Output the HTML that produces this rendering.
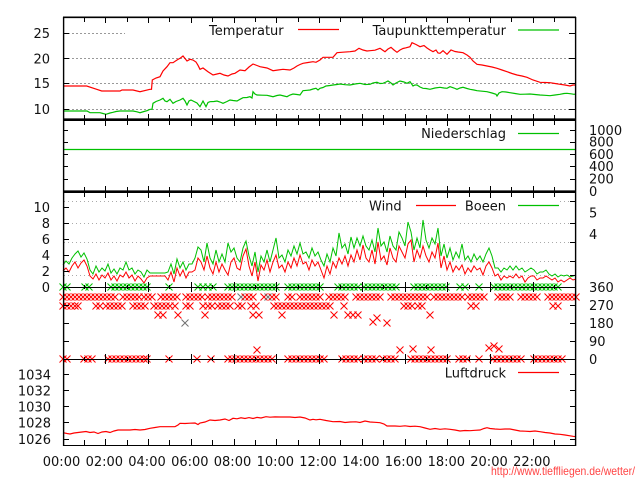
<!DOCTYPE html>
<html><head><meta charset="utf-8"><style>
html,body{margin:0;padding:0;background:#fff;}
svg{display:block;}
text{font-family:"DejaVu Sans","Liberation Sans",sans-serif;font-size:13px;fill:#111;}
</style></head><body>
<svg width="640" height="480" viewBox="0 0 640 480" xmlns="http://www.w3.org/2000/svg">
<defs>
<path id="r" d="M-3.5 -3.5l7 7m0 -7l-7 7" stroke="#f00" stroke-width="1" fill="none"/>
<path id="g" d="M-3.5 -3.5l7 7m0 -7l-7 7" stroke="#00c000" stroke-width="1" fill="none"/>
<path id="k" d="M-3.5 -3.5l7 7m0 -7l-7 7" stroke="#707070" stroke-width="1" fill="none"/>
</defs>
<rect width="640" height="480" fill="#fff"/>

<!-- grids -->
<g stroke="#999" stroke-width="1" stroke-dasharray="2,2" fill="none">
<path d="M64 33.5H125M64 58.5H570M64 83.5H570M64 109.5H570"/>
</g>
<g stroke="#aaa" stroke-width="1" stroke-dasharray="1,3" fill="none">
<path d="M64 201.5H363M560 201.5H570M64 223.5H570M64 242.5H570M64 261.5H570M64 275.5H570"/>
</g>

<!-- temperature -->
<polyline fill="none" stroke="#f00" stroke-width="1.2" points="63,86 86.7,86 96.7,89.3 101.7,91 120,91 122,90 133,90 140,91.7 150,89.3 151.5,89.3 152.3,80 156,78 160,76.7 163,71 167,66.7 170,62.7 173,62.7 177,60 180,58.3 183,56 187,61 190,59.3 193,60 196,62 198,65.3 200,69.3 203,68 208,71.7 213,75 217,74 220,73.3 224,75 228,76 232,74 235,73.3 240,70 245,70.7 249,67 253,64 257,65.5 260,66.7 267,68 273,70.7 278,70 283,69.3 290,70 294,68 297,66 300,64.5 303,63.3 308,62.5 313,61.7 316,62.3 320,60 323,57.3 333,57.3 337,52.7 343,52.2 350,51.7 355,51 359,48.3 363,50 367,51 370,50.7 375,50.2 380,48.3 385,51.7 388,49 391,47.3 394,50 397,52.3 400,50 403,48.5 406,47.8 410,46.7 412,42.7 416,44.5 420,46.7 424,45.5 427,48 430,50 433,51.7 436,50 438,53 440,53.3 443,50.7 447,54.3 451,50 455,51.5 458,52 463,52.7 467,55 470,57.3 473,61 477,64.3 482,65 487,66 492,67 497,68.3 502,70 507,71.7 512,73.5 517,75 522,76 527,77.3 533,80 540,82.3 545,82.5 550,82.7 555,83.5 560,84.3 565,85 570,86 573,85 576,85"/>
<!-- dew point -->
<polyline fill="none" stroke="#00c000" stroke-width="1.2" points="63,111 87,111 90,112.7 100,112.7 103,113.5 106,114.3 110,113 113,112.3 116,111.5 120,111 133,111 137,111.8 140,112.7 144,111.5 147,110.7 150,109.3 152,109.3 153,103.3 156,101.5 160,100 163,98.3 165,101 167,101.7 170,99.3 173,103.3 176,101.5 180,100 183,98.3 185,101 187,105 189,101 191,100 194,101.5 197,103 200,106.7 203,101 206,106.7 208,102.5 210,101.7 214,101.5 217,101 220,102 223,103.3 227,101.5 230,100 233,100.5 237,101 240,99.3 243,97.7 247,97.5 250,96.7 252,98 253,91.7 255,94 257,95 262,95.2 267,95.3 270,96 273,96.7 277,95.5 280,95 284,96 287,96.7 290,95 293,94 297,94.5 300,95 303,90.7 307,90.3 310,90 313,89 316,88.3 318,90 320,88.3 323,87.5 326,86 330,85.5 333,85 337,84.5 340,84 345,84.7 350,85 355,84 360,83.3 365,84.5 370,84.3 373,83 377,82.3 380,83.5 383,83.3 386,82 388,81 391,83 393,85 396,83 400,81 404,82 407,83.3 410,81.7 413,86 415,85 417,85 420,87 423,88.3 426,88.5 430,89.3 435,88 440,87.3 444,88 447,88.3 450,86.7 454,88 457,89.3 460,88 463,87.3 467,88.5 470,89.3 474,90 477,90.7 482,91.2 487,91.7 492,93 496,94.3 497,96 499,93 502,91.7 506,92 510,92.7 515,93.5 520,94.3 525,94.2 530,94 535,94.5 540,95 545,95.3 550,95.7 555,95 560,94.3 564,93.5 567,93.3 571,93.8 574,94.3 576,94"/>

<!-- precipitation -->
<path d="M63 149.5H576" stroke="#00c000" stroke-width="1.2"/>

<!-- wind gusts -->
<polyline fill="none" stroke="#00c000" stroke-width="1" points="63,265 66,261 69,264 72,258 75,254 78,251 81,257 84,253 87,259 90,270 93,274 96,266 99,272 102,268 105,271 108,264 111,273 114,269 117,274 120,268 123,270 126,262 129,270 132,268 135,274 138,270 141,272 144,277 147,270 150,273 153,273 156,273 159,273 162,273 165,273 168,272 171,264 174,274 177,259 180,268 183,262 186,270 189,264 192,264 195,258 198,247 201,250 204,262 207,243 210,258 213,264 216,250 219,262 222,254 225,262 228,243 231,252 234,248 237,258 240,262 243,248 246,241 249,256 252,266 255,252 258,272 261,256 264,262 267,250 270,262 273,250 276,238 279,258 282,255 285,262 288,250 291,256 294,246 297,254 300,243 303,254 306,252 309,258 312,248 315,256 318,252 321,260 324,266 327,254 330,262 333,248 336,256 339,233 342,248 345,244 348,254 351,237 354,248 357,238 360,246 363,236 366,246 369,250 372,240 375,252 378,228 381,246 384,242 387,252 390,236 393,246 396,250 399,232 402,238 405,246 408,222 411,232 414,250 417,238 420,248 423,220 426,240 429,248 432,238 435,244 438,228 441,256 444,244 447,258 450,248 453,260 456,252 459,258 462,244 465,260 468,256 471,262 474,254 477,260 480,256 483,262 486,254 489,248 492,256 495,268 498,268 501,272 504,268 507,270 510,266 513,270 516,266 519,270 522,268 525,272 528,270 531,268 534,270 537,274 540,272 543,272 546,270 549,274 552,276 555,274 558,277 561,275 564,276 567,275 570,277 573,276 576,275"/>
<!-- wind -->
<polyline fill="none" stroke="#f00" stroke-width="1" points="63,271 66,268 69,272 72,266 75,262 78,268 81,263 84,260 87,266 90,276 93,279 96,274 99,280 102,275 105,278 108,273 111,280 114,276 117,281 120,275 123,277 126,272 129,278 132,275 135,281 138,276 141,279 144,283 147,278 150,276 153,276 156,276 159,276 162,276 165,276 168,280 171,272 174,282 177,268 180,276 183,270 186,278 189,272 192,272 195,270 198,258 201,262 204,270 207,256 210,268 213,274 216,262 219,272 222,264 225,270 228,275 231,262 234,258 237,268 240,270 243,256 246,249 249,266 252,276 255,262 258,281 261,265 264,270 267,260 270,272 273,262 276,255 279,268 282,265 285,272 288,262 291,268 294,258 297,266 300,255 303,264 306,262 309,270 312,260 315,266 318,262 321,270 324,278 327,266 330,274 333,262 336,268 339,258 342,264 345,256 348,266 351,255 354,262 357,250 360,260 363,245 366,258 369,262 372,250 375,264 378,242 381,260 384,256 387,265 390,248 393,258 396,262 399,246 402,252 405,258 408,244 411,240 414,262 417,250 420,258 423,246 426,256 429,262 432,252 435,258 438,243 441,268 444,256 447,270 450,262 453,272 456,266 459,270 462,265 465,274 468,268 471,272 474,266 477,270 480,268 483,275 486,266 489,262 492,268 495,276 498,274 501,280 504,276 507,278 510,276 513,278 516,274 519,278 522,276 525,282 528,278 531,276 534,276 537,280 540,278 543,278 546,276 549,278 552,280 555,278 558,282 561,280 564,282 567,280 570,278 573,280 576,279"/>

<!-- pressure -->
<polyline fill="none" stroke="#f00" stroke-width="1.2" points="63,432.7 67,433.5 70,434 74,433 78,432.5 82,432 86,431.5 90,432.5 94,432 98,433.5 102,432 106,431.5 110,432.5 114,431 118,430 122,430 130,430 135,429.5 140,430 145,429.5 150,428.3 155,427.5 160,426.7 168,426.7 175,426.7 178,425 180,423.3 185,423.5 190,423.2 195,423 198,424.5 200,423 205,422 210,420 215,420.5 220,420 225,419 229,420.5 233,418.3 237,418.8 241,417.8 245,418.5 249,417.6 253,418.5 257,417.4 261,418 266,416.7 270,417.2 275,416.9 280,417 285,417 290,417 295,417.5 300,417 305,418 310,420 313,419.3 316,419.8 320,419.3 326,420.5 333,421.7 340,421.5 345,422.5 350,422 356,421.8 360,422.5 365,421 370,422 375,422.3 380,422.7 384,424 387,426 395,426 400,426.3 405,425.8 410,426.5 415,426.2 420,426.7 425,428 430,429.3 435,428.5 440,429.3 445,428.8 450,429.3 455,430 460,431 465,430.5 470,430.7 475,430.3 480,430 484,428.5 487,427.7 490,428.5 495,429 500,429.3 505,429 510,429 515,430 520,431 525,431.2 530,431.5 535,431 540,431.7 545,432.5 550,433 555,434 560,434.3 565,435 570,435.8 573,436.3 576,436.7"/>

<!-- wind direction crosses -->
<g>
<!-- row 315 -->
<use href="#r" x="63" y="297"/><use href="#r" x="67" y="297"/><use href="#r" x="71" y="297"/><use href="#r" x="75" y="297"/><use href="#r" x="79" y="297"/><use href="#r" x="83" y="297"/><use href="#r" x="87" y="297"/><use href="#r" x="91" y="297"/><use href="#r" x="95" y="297"/><use href="#r" x="99" y="297"/><use href="#r" x="103" y="297"/><use href="#r" x="107" y="297"/><use href="#r" x="111" y="297"/><use href="#r" x="115" y="297"/><use href="#r" x="123" y="297"/><use href="#r" x="127" y="297"/><use href="#r" x="131" y="297"/><use href="#r" x="135" y="297"/><use href="#r" x="139" y="297"/><use href="#r" x="144" y="297"/><use href="#r" x="148" y="297"/><use href="#r" x="152" y="297"/><use href="#r" x="161" y="297"/><use href="#r" x="165" y="297"/><use href="#r" x="169" y="297"/><use href="#r" x="173" y="297"/><use href="#r" x="177" y="297"/><use href="#r" x="186" y="297"/><use href="#r" x="190" y="297"/><use href="#r" x="194" y="297"/><use href="#r" x="198" y="297"/><use href="#r" x="202" y="297"/><use href="#r" x="208" y="297"/><use href="#r" x="212" y="297"/><use href="#r" x="216" y="297"/><use href="#r" x="220" y="297"/><use href="#r" x="224" y="297"/><use href="#r" x="228" y="297"/><use href="#r" x="232" y="297"/><use href="#k" x="241" y="297"/><use href="#r" x="245" y="297"/><use href="#r" x="249" y="297"/><use href="#r" x="253" y="297"/><use href="#r" x="264" y="297"/><use href="#k" x="268" y="297"/><use href="#r" x="272" y="297"/><use href="#r" x="276" y="297"/><use href="#r" x="288" y="297"/><use href="#r" x="292" y="297"/><use href="#r" x="300" y="297"/><use href="#r" x="304" y="297"/><use href="#r" x="308" y="297"/><use href="#r" x="312" y="297"/><use href="#r" x="316" y="297"/><use href="#r" x="320" y="297"/><use href="#r" x="329" y="297"/><use href="#r" x="333" y="297"/><use href="#r" x="337" y="297"/><use href="#r" x="341" y="297"/><use href="#r" x="345" y="297"/><use href="#r" x="356" y="297"/><use href="#r" x="360" y="297"/><use href="#r" x="364" y="297"/><use href="#r" x="368" y="297"/><use href="#r" x="372" y="297"/><use href="#r" x="376" y="297"/><use href="#r" x="380" y="297"/><use href="#r" x="391" y="297"/><use href="#r" x="395" y="297"/><use href="#r" x="399" y="297"/><use href="#r" x="403" y="297"/><use href="#r" x="407" y="297"/><use href="#r" x="411" y="297"/><use href="#r" x="415" y="297"/><use href="#r" x="419" y="297"/><use href="#r" x="423" y="297"/><use href="#r" x="427" y="297"/><use href="#r" x="434" y="297"/><use href="#r" x="438" y="297"/><use href="#r" x="442" y="297"/><use href="#r" x="446" y="297"/><use href="#r" x="450" y="297"/><use href="#r" x="454" y="297"/><use href="#r" x="458" y="297"/><use href="#r" x="462" y="297"/><use href="#r" x="468" y="297"/><use href="#r" x="472" y="297"/><use href="#r" x="476" y="297"/><use href="#r" x="480" y="297"/><use href="#r" x="484" y="297"/><use href="#r" x="498" y="297"/><use href="#r" x="502" y="297"/><use href="#r" x="506" y="297"/><use href="#r" x="510" y="297"/><use href="#r" x="521" y="297"/><use href="#r" x="525" y="297"/><use href="#r" x="529" y="297"/><use href="#r" x="533" y="297"/><use href="#r" x="537" y="297"/><use href="#r" x="548" y="297"/><use href="#r" x="552" y="297"/><use href="#r" x="556" y="297"/><use href="#r" x="560" y="297"/><use href="#r" x="564" y="297"/><use href="#r" x="568" y="297"/><use href="#r" x="572" y="297"/><use href="#r" x="576" y="297"/>
<!-- row 270 -->
<use href="#r" x="63" y="306"/><use href="#r" x="67" y="306"/><use href="#r" x="71" y="306"/><use href="#r" x="75" y="306"/><use href="#r" x="78" y="306"/><use href="#r" x="96" y="306"/><use href="#r" x="100" y="306"/><use href="#r" x="106" y="306"/><use href="#r" x="110" y="306"/><use href="#r" x="114" y="306"/><use href="#r" x="118" y="306"/><use href="#r" x="122" y="306"/><use href="#r" x="133" y="306"/><use href="#r" x="137" y="306"/><use href="#r" x="141" y="306"/><use href="#r" x="145" y="306"/><use href="#r" x="154" y="306"/><use href="#r" x="158" y="306"/><use href="#r" x="162" y="306"/><use href="#r" x="166" y="306"/><use href="#r" x="170" y="306"/><use href="#r" x="175" y="306"/><use href="#r" x="186" y="306"/><use href="#r" x="190" y="306"/><use href="#r" x="203" y="306"/><use href="#r" x="208" y="306"/><use href="#r" x="212" y="306"/><use href="#r" x="218" y="306"/><use href="#r" x="222" y="306"/><use href="#r" x="226" y="306"/><use href="#r" x="230" y="306"/><use href="#r" x="238" y="306"/><use href="#r" x="242" y="306"/><use href="#r" x="251" y="306"/><use href="#r" x="256" y="306"/><use href="#r" x="274" y="306"/><use href="#r" x="278" y="306"/><use href="#r" x="282" y="306"/><use href="#r" x="286" y="306"/><use href="#r" x="290" y="306"/><use href="#r" x="294" y="306"/><use href="#r" x="298" y="306"/><use href="#r" x="302" y="306"/><use href="#r" x="306" y="306"/><use href="#r" x="310" y="306"/><use href="#r" x="314" y="306"/><use href="#r" x="318" y="306"/><use href="#r" x="322" y="306"/><use href="#r" x="326" y="306"/><use href="#r" x="330" y="306"/><use href="#r" x="344" y="306"/><use href="#r" x="404" y="306"/><use href="#r" x="408" y="306"/><use href="#r" x="412" y="306"/><use href="#r" x="418" y="306"/><use href="#r" x="422" y="306"/><use href="#r" x="471" y="306"/><use href="#r" x="476" y="306"/><use href="#r" x="553" y="306"/><use href="#r" x="558" y="306"/>
<!-- row 225 and misc -->
<use href="#r" x="158" y="315"/><use href="#r" x="163" y="315"/><use href="#r" x="178" y="315"/><use href="#r" x="205" y="315"/><use href="#r" x="253" y="315"/><use href="#r" x="259" y="315"/><use href="#r" x="282" y="315"/><use href="#r" x="334" y="315"/><use href="#r" x="348" y="315"/><use href="#r" x="353" y="315"/><use href="#r" x="358" y="315"/><use href="#r" x="430" y="315"/>
<use href="#k" x="185" y="323"/><use href="#r" x="373" y="322"/><use href="#r" x="377" y="318"/><use href="#r" x="387" y="323"/><use href="#r" x="257" y="350"/><use href="#r" x="400" y="350"/><use href="#r" x="413" y="349"/><use href="#r" x="431" y="350"/><use href="#r" x="489" y="348"/><use href="#r" x="494" y="346"/><use href="#r" x="499" y="349"/>
<!-- row 0 -->
<use href="#r" x="63" y="359"/><use href="#r" x="67" y="359"/><use href="#r" x="84" y="359"/><use href="#r" x="88" y="359"/><use href="#r" x="92" y="359"/><use href="#r" x="108" y="359"/><use href="#r" x="112" y="359"/><use href="#r" x="116" y="359"/><use href="#r" x="120" y="359"/><use href="#r" x="124" y="359"/><use href="#r" x="128" y="359"/><use href="#r" x="132" y="359"/><use href="#r" x="136" y="359"/><use href="#r" x="140" y="359"/><use href="#r" x="144" y="359"/><use href="#r" x="147" y="359"/><use href="#r" x="169" y="359"/><use href="#r" x="197" y="359"/><use href="#r" x="211" y="359"/><use href="#r" x="228" y="359"/><use href="#r" x="232" y="359"/><use href="#r" x="236" y="359"/><use href="#r" x="240" y="359"/><use href="#r" x="244" y="359"/><use href="#r" x="248" y="359"/><use href="#r" x="252" y="359"/><use href="#r" x="256" y="359"/><use href="#r" x="260" y="359"/><use href="#r" x="264" y="359"/><use href="#r" x="268" y="359"/><use href="#r" x="272" y="359"/><use href="#r" x="288" y="359"/><use href="#r" x="292" y="359"/><use href="#r" x="296" y="359"/><use href="#r" x="300" y="359"/><use href="#r" x="304" y="359"/><use href="#r" x="308" y="359"/><use href="#r" x="312" y="359"/><use href="#r" x="316" y="359"/><use href="#r" x="320" y="359"/><use href="#r" x="324" y="359"/><use href="#r" x="342" y="359"/><use href="#r" x="346" y="359"/><use href="#r" x="350" y="359"/><use href="#r" x="354" y="359"/><use href="#r" x="358" y="359"/><use href="#r" x="364" y="359"/><use href="#r" x="368" y="359"/><use href="#r" x="372" y="359"/><use href="#r" x="376" y="359"/><use href="#r" x="383" y="359"/><use href="#r" x="387" y="359"/><use href="#r" x="391" y="359"/><use href="#r" x="395" y="359"/><use href="#r" x="411" y="359"/><use href="#r" x="415" y="359"/><use href="#r" x="419" y="359"/><use href="#r" x="423" y="359"/><use href="#r" x="427" y="359"/><use href="#r" x="431" y="359"/><use href="#r" x="435" y="359"/><use href="#r" x="439" y="359"/><use href="#r" x="443" y="359"/><use href="#r" x="447" y="359"/><use href="#r" x="459" y="359"/><use href="#r" x="463" y="359"/><use href="#r" x="467" y="359"/><use href="#r" x="479" y="359"/><use href="#r" x="493" y="359"/><use href="#r" x="497" y="359"/><use href="#r" x="501" y="359"/><use href="#r" x="505" y="359"/><use href="#r" x="509" y="359"/><use href="#r" x="513" y="359"/><use href="#r" x="517" y="359"/><use href="#r" x="521" y="359"/><use href="#r" x="534" y="359"/><use href="#r" x="538" y="359"/><use href="#r" x="542" y="359"/><use href="#r" x="546" y="359"/><use href="#r" x="550" y="359"/><use href="#r" x="554" y="359"/><use href="#r" x="558" y="359"/><use href="#r" x="562" y="359"/>
<!-- row 360 green -->
<use href="#g" x="63" y="287"/><use href="#g" x="67" y="287"/><use href="#g" x="85" y="287"/><use href="#g" x="89" y="287"/><use href="#g" x="111" y="287"/><use href="#g" x="115" y="287"/><use href="#g" x="119" y="287"/><use href="#g" x="123" y="287"/><use href="#g" x="127" y="287"/><use href="#g" x="131" y="287"/><use href="#g" x="135" y="287"/><use href="#g" x="139" y="287"/><use href="#g" x="143" y="287"/><use href="#g" x="147" y="287"/><use href="#g" x="169" y="287"/><use href="#g" x="198" y="287"/><use href="#g" x="203" y="287"/><use href="#g" x="208" y="287"/><use href="#g" x="213" y="287"/><use href="#g" x="228" y="287"/><use href="#g" x="232" y="287"/><use href="#g" x="236" y="287"/><use href="#g" x="240" y="287"/><use href="#g" x="244" y="287"/><use href="#g" x="248" y="287"/><use href="#g" x="252" y="287"/><use href="#g" x="256" y="287"/><use href="#g" x="260" y="287"/><use href="#g" x="264" y="287"/><use href="#g" x="268" y="287"/><use href="#g" x="272" y="287"/><use href="#g" x="276" y="287"/><use href="#g" x="288" y="287"/><use href="#g" x="292" y="287"/><use href="#g" x="296" y="287"/><use href="#g" x="300" y="287"/><use href="#g" x="304" y="287"/><use href="#g" x="308" y="287"/><use href="#g" x="312" y="287"/><use href="#g" x="316" y="287"/><use href="#g" x="320" y="287"/><use href="#g" x="338" y="287"/><use href="#g" x="342" y="287"/><use href="#g" x="346" y="287"/><use href="#g" x="350" y="287"/><use href="#g" x="354" y="287"/><use href="#g" x="358" y="287"/><use href="#g" x="364" y="287"/><use href="#g" x="368" y="287"/><use href="#g" x="372" y="287"/><use href="#g" x="376" y="287"/><use href="#g" x="380" y="287"/><use href="#g" x="384" y="287"/><use href="#g" x="388" y="287"/><use href="#g" x="392" y="287"/><use href="#g" x="396" y="287"/><use href="#g" x="414" y="287"/><use href="#g" x="418" y="287"/><use href="#g" x="422" y="287"/><use href="#g" x="426" y="287"/><use href="#g" x="430" y="287"/><use href="#g" x="434" y="287"/><use href="#g" x="438" y="287"/><use href="#g" x="442" y="287"/><use href="#g" x="446" y="287"/><use href="#g" x="460" y="287"/><use href="#g" x="465" y="287"/><use href="#g" x="479" y="287"/><use href="#g" x="494" y="287"/><use href="#g" x="498" y="287"/><use href="#g" x="502" y="287"/><use href="#g" x="506" y="287"/><use href="#g" x="510" y="287"/><use href="#g" x="514" y="287"/><use href="#g" x="518" y="287"/><use href="#g" x="522" y="287"/><use href="#g" x="526" y="287"/><use href="#g" x="530" y="287"/><use href="#g" x="534" y="287"/><use href="#g" x="538" y="287"/><use href="#g" x="542" y="287"/><use href="#g" x="546" y="287"/><use href="#g" x="550" y="287"/><use href="#g" x="554" y="287"/><use href="#g" x="558" y="287"/>
</g>

<!-- axes / borders -->
<g stroke="#000" fill="none">
<path d="M63 17.3H576" stroke-width="1.6"/>
<path d="M63.6 17V446M575.6 17V446" stroke-width="1.4"/>
<path d="M63 119.7H576M63 191.7H576" stroke-width="2.6"/>
<path d="M63 287.5H576M63 359.5H576M63 445.5H576" stroke-width="1"/>
<!-- x ticks -->
<path stroke-width="1" d="M84.5 17v5M84.5 115v10M84.5 187v10M84.5 285v4M84.5 357v4M84.5 440v5
M105.5 17v6M105.5 114v12M105.5 186v12M105.5 282v10M105.5 354v10M105.5 439v6
M127.5 17v5M127.5 115v10M127.5 187v10M127.5 285v4M127.5 357v4M127.5 440v5
M148.5 17v6M148.5 114v12M148.5 186v12M148.5 282v10M148.5 354v10M148.5 439v6
M169.5 17v5M169.5 115v10M169.5 187v10M169.5 285v4M169.5 357v4M169.5 440v5
M191.5 17v6M191.5 114v12M191.5 186v12M191.5 282v10M191.5 354v10M191.5 439v6
M212.5 17v5M212.5 115v10M212.5 187v10M212.5 285v4M212.5 357v4M212.5 440v5
M234.5 17v6M234.5 114v12M234.5 186v12M234.5 282v10M234.5 354v10M234.5 439v6
M255.5 17v5M255.5 115v10M255.5 187v10M255.5 285v4M255.5 357v4M255.5 440v5
M276.5 17v6M276.5 114v12M276.5 186v12M276.5 282v10M276.5 354v10M276.5 439v6
M298.5 17v5M298.5 115v10M298.5 187v10M298.5 285v4M298.5 357v4M298.5 440v5
M319.5 17v6M319.5 114v12M319.5 186v12M319.5 282v10M319.5 354v10M319.5 439v6
M340.5 17v5M340.5 115v10M340.5 187v10M340.5 285v4M340.5 357v4M340.5 440v5
M362.5 17v6M362.5 114v12M362.5 186v12M362.5 282v10M362.5 354v10M362.5 439v6
M383.5 17v5M383.5 115v10M383.5 187v10M383.5 285v4M383.5 357v4M383.5 440v5
M405.5 17v6M405.5 114v12M405.5 186v12M405.5 282v10M405.5 354v10M405.5 439v6
M426.5 17v5M426.5 115v10M426.5 187v10M426.5 285v4M426.5 357v4M426.5 440v5
M447.5 17v6M447.5 114v12M447.5 186v12M447.5 282v10M447.5 354v10M447.5 439v6
M469.5 17v5M469.5 115v10M469.5 187v10M469.5 285v4M469.5 357v4M469.5 440v5
M490.5 17v6M490.5 114v12M490.5 186v12M490.5 282v10M490.5 354v10M490.5 439v6
M511.5 17v5M511.5 115v10M511.5 187v10M511.5 285v4M511.5 357v4M511.5 440v5
M533.5 17v6M533.5 114v12M533.5 186v12M533.5 282v10M533.5 354v10M533.5 439v6
M554.5 17v5M554.5 115v10M554.5 187v10M554.5 285v4M554.5 357v4M554.5 440v5"/>
<!-- y ticks -->
<path stroke-width="1" d="M63 33.5h6M63 58.5h6M63 83.5h6M63 109.5h6M576 33.5h-7M576 58.5h-7M576 83.5h-7M576 109.5h-7
M63 130.5h5M63 142.5h5M63 154.5h5M63 166.5h5M63 179.5h5M576 130.5h-6M576 142.5h-6M576 154.5h-6M576 166.5h-6M576 179.5h-6
M63 207.5h6M63 223.5h6M63 239.5h6M63 255.5h6M63 271.5h6M576 201.5h-6M576 223.5h-6M576 242.5h-6M576 261.5h-6M576 275.5h-6
M63 305.5h6M63 323.5h6M63 341.5h6M576 305.5h-6M576 323.5h-6M576 341.5h-6
M63 374.5h6M63 390.5h6M63 406.5h6M63 422.5h6M63 439.5h6M576 374.5h-6M576 390.5h-6M576 406.5h-6M576 422.5h-6M576 439.5h-6"/>
</g>

<!-- legends -->
<text x="209" y="35">Temperatur</text>
<path d="M298 29.5H339" stroke="#f00" stroke-width="1.2"/>
<text x="506" y="35" text-anchor="end">Taupunkttemperatur</text>
<path d="M518 30H559" stroke="#00c000" stroke-width="1.2"/>
<text x="506" y="137.8" text-anchor="end">Niederschlag</text>
<path d="M518 133.5H559" stroke="#00c000" stroke-width="1.2"/>
<text x="369" y="210.3">Wind</text>
<path d="M416 205.5H456" stroke="#f00" stroke-width="1.2"/>
<text x="506" y="210.3" text-anchor="end">Boeen</text>
<path d="M518 205.5H559" stroke="#00c000" stroke-width="1.2"/>
<text x="506" y="377.3" text-anchor="end">Luftdruck</text>
<path d="M518 372.5H559" stroke="#f00" stroke-width="1.2"/>

<!-- left labels -->
<g text-anchor="end">
<text x="50" y="38">25</text>
<text x="50" y="63.3">20</text>
<text x="50" y="88">15</text>
<text x="50" y="114">10</text>
<text x="50" y="212">10</text>
<text x="50" y="228">8</text>
<text x="50" y="244">6</text>
<text x="50" y="260">4</text>
<text x="50" y="276">2</text>
<text x="50" y="292">0</text>
<text x="51" y="379.4">1034</text>
<text x="51" y="395.4">1032</text>
<text x="51" y="411.4">1030</text>
<text x="51" y="427.4">1028</text>
<text x="51" y="444">1026</text>
</g>
<!-- right labels -->
<g>
<text x="589" y="135">1000</text>
<text x="589" y="146.7">800</text>
<text x="589" y="159">600</text>
<text x="589" y="171">400</text>
<text x="589" y="183.7">200</text>
<text x="589" y="196">0</text>
<text x="589" y="217.3">5</text>
<text x="589" y="238.8">4</text>
<text x="589" y="292.2">360</text>
<text x="589" y="310.2">270</text>
<text x="589" y="327.8">180</text>
<text x="589" y="346.2">90</text>
<text x="589" y="364">0</text>
</g>
<!-- x labels -->
<g text-anchor="middle">
<text x="61.5" y="466">00:00</text>
<text x="104.3" y="466">02:00</text>
<text x="147" y="466">04:00</text>
<text x="189.8" y="466">06:00</text>
<text x="232.5" y="466">08:00</text>
<text x="275.3" y="466">10:00</text>
<text x="318" y="466">12:00</text>
<text x="360.8" y="466">14:00</text>
<text x="403.5" y="466">16:00</text>
<text x="446.3" y="466">18:00</text>
<text x="489" y="466">20:00</text>
<text x="531.8" y="466">22:00</text>
</g>
<text x="491" y="475" style="font-family:'Liberation Sans',sans-serif;font-size:12px;fill:#f44;" textLength="144" lengthAdjust="spacingAndGlyphs">http://www.tieffliegen.de/wetter/</text>
</svg>
</body></html>
